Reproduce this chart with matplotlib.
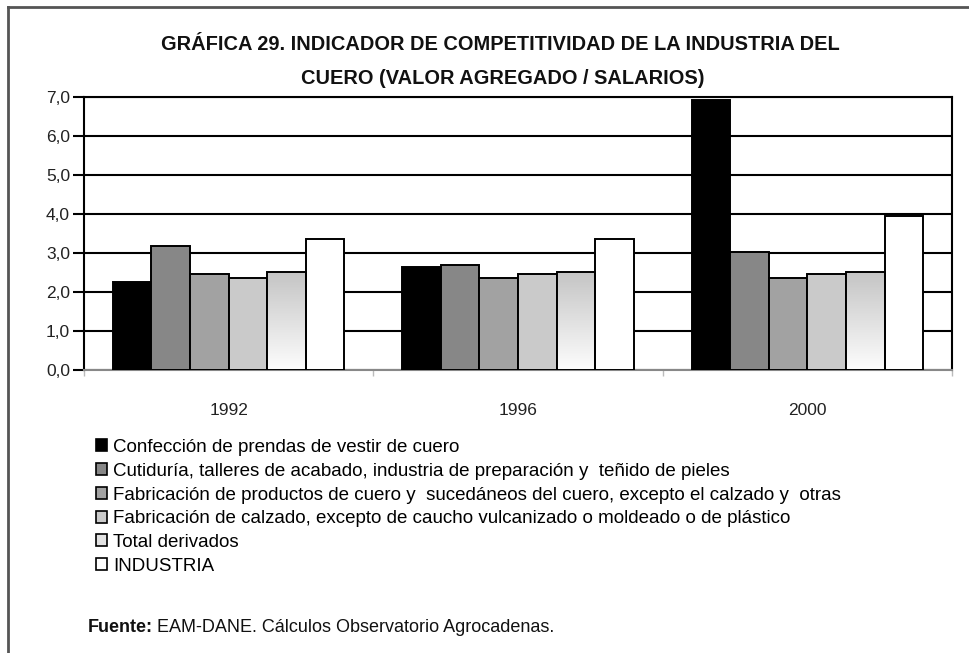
import numpy as np
import matplotlib
matplotlib.use("Agg")
import matplotlib.pyplot as plt
from matplotlib.patches import Patch
from matplotlib.lines import Line2D

plt.rcParams['font.family'] = ['Liberation Sans', 'DejaVu Sans']

# datos
years = ['1992', '1996', '2000']
series = ['Confección de prendas de vestir de cuero',
          'Cutiduría, talleres de acabado, industria de preparación y  teñido de pieles',
          'Fabricación de productos de cuero y  sucedáneos del cuero, excepto el calzado y  otras',
          'Fabricación de calzado, excepto de caucho vulcanizado o moldeado o de plástico',
          'Total derivados',
          'INDUSTRIA']
confeccion = [2.26, 2.64, 6.92]
curtiduria = [3.18, 2.69, 3.03]
productos = [2.45, 2.37, 2.37]
calzado = [2.37, 2.45, 2.45]
total_deriv = [2.52, 2.52, 2.52]
industria = [3.35, 3.37, 3.94]
valores = [confeccion, curtiduria, productos, calzado, total_deriv, industria]
colores = ['#000000', '#878787', '#a2a2a2', '#cacaca', 'gradient', '#ffffff']
yticks = [0, 1, 2, 3, 4, 5, 6, 7]

fig = plt.figure(figsize=(9.7, 6.53), dpi=100)
ax = fig.add_axes([84/970, 1-370/653, 868/970, 273/653])

x = np.arange(len(years))
w = 0.1334
gcmap = matplotlib.colors.LinearSegmentedColormap.from_list('g', ['#fdfdfd', '#c4c4c4'])
for i, vals in enumerate(valores):
    pos = x - 3*w + w/2 + i*w
    if colores[i] == 'gradient':
        bars = ax.bar(pos, vals, w, facecolor='none', edgecolor='black', linewidth=1.4, zorder=4)
        grad = np.linspace(0, 1, 256).reshape(-1, 1)
        for b in bars:
            im = ax.imshow(grad, cmap=gcmap,
                           extent=(b.get_x(), b.get_x()+b.get_width(), 0, b.get_height()),
                           aspect='auto', origin='lower', zorder=3)
            im.set_clip_path(b)
    else:
        ax.bar(pos, vals, w, color=colores[i], edgecolor='black', linewidth=1.4, zorder=3)

ax.set_xlim(-0.5, 2.5)
ax.set_ylim(0, 7)
ax.set_yticks(yticks)
ax.set_yticklabels([f'{v:.1f}'.replace('.', ',') for v in yticks], fontsize=12.5, color='#222222')
ax.yaxis.grid(True, color='black', linewidth=1.5, zorder=1)
ax.set_axisbelow(True)
ax.tick_params(axis='y', length=8, width=1.5, color='black', pad=2)
ax.set_xticks(x)
ax.set_xticklabels(years, fontsize=12.5, color='#222222')
ax.tick_params(axis='x', length=0, pad=24)
ax.set_xticks([-0.5, 0.5, 1.5, 2.5], minor=True)
ax.tick_params(axis='x', which='minor', length=4, color='#bbbbbb', width=1)
for s in ['left', 'top', 'right']:
    ax.spines[s].set_color('black')
    ax.spines[s].set_linewidth(1.5)
ax.spines['bottom'].set_color('#888888')
ax.spines['bottom'].set_linewidth(1.5)

# leyenda
leg_col = ['#000000', '#878787', '#a2a2a2', '#cacaca', '#e2e2e2', '#ffffff']
handles = [Patch(facecolor=c, edgecolor='black', linewidth=1.2) for c in leg_col]
fig.legend(handles, series, loc='upper left', bbox_to_anchor=(96/970, 1-439/653),
           frameon=False, fontsize=13.5, handlelength=0.6, handleheight=0.6,
           handletextpad=0.3, labelspacing=0.36, borderpad=0, borderaxespad=0)

# título
fig.text(500/970, 1-45/653, 'GRÁFICA 29. INDICADOR DE COMPETITIVIDAD DE LA INDUSTRIA DEL',
         ha='center', va='center', fontsize=14.4, fontweight='bold', color='#111111')
fig.text(503/970, 1-78/653, 'CUERO (VALOR AGREGADO / SALARIOS)',
         ha='center', va='center', fontsize=14.4, fontweight='bold', color='#111111')

# fuente
t1 = fig.text(88/970, 1-628/653, 'Fuente:', ha='left', va='center', fontsize=13,
              fontweight='bold', color='#111111')
fig.canvas.draw()
bb = t1.get_window_extent(fig.canvas.get_renderer())
fig.text((bb.x1 + 4)/970, 1-628/653, 'EAM-DANE. Cálculos Observatorio Agrocadenas.',
         ha='left', va='center', fontsize=13, color='#111111')

# marco
fig.add_artist(Line2D([8/970, 8/970], [0, 1-7/653], color='#555555', lw=2))
fig.add_artist(Line2D([8/970, 1], [1-7/653, 1-7/653], color='#555555', lw=2))

fig.savefig('out.png', dpi=100)
